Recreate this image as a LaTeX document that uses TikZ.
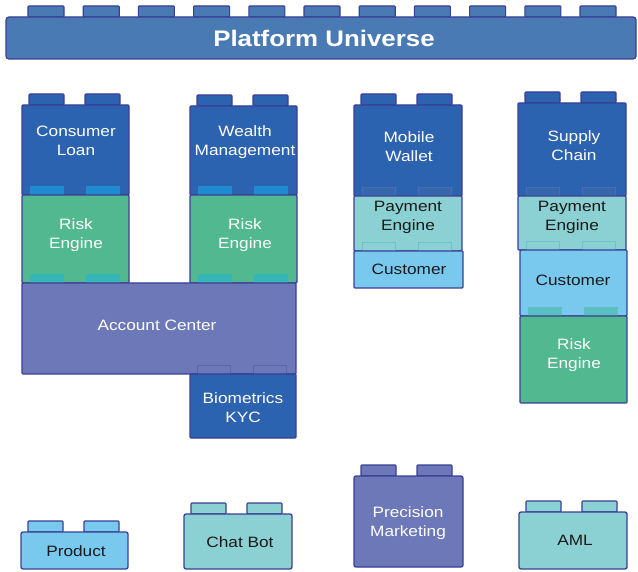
\documentclass[tikz,border=0pt]{standalone}
\usepackage{fontspec}
\setmainfont{Liberation Sans}[FakeStretch=1.15]
\definecolor{bd}{HTML}{3A3E96}
\definecolor{barblue}{HTML}{4A7AB4}
\definecolor{dkblue}{HTML}{2C63B0}
\definecolor{dkstud}{HTML}{1F8BD1}
\definecolor{dkstudB}{HTML}{3566AE}
\definecolor{dkstudBd}{HTML}{4A6DB2}
\definecolor{green}{HTML}{52B890}
\definecolor{grstud}{HTML}{35B7B7}
\definecolor{purple}{HTML}{6C78B8}
\definecolor{pustudBd}{HTML}{5A64AA}
\definecolor{lteal}{HTML}{8BD0D2}
\definecolor{ltealBd}{HTML}{6FC0C8}
\definecolor{sky}{HTML}{79C9EE}
\definecolor{skystud}{HTML}{5BBFC4}
\definecolor{txtdark}{HTML}{1A1A1A}
\newcommand\topstuds[3]{%
  \draw[stud,fill=#3] (#1+7,#2) rectangle ++(35,11);
  \draw[stud,fill=#3] (#1+63,#2) rectangle ++(35,11);}
\newcommand\innerstuds[4]{%
  \draw[istud,fill=#3,draw=#4] (#1+8,#2-9) rectangle ++(33,9);
  \draw[istud,fill=#3,draw=#4] (#1+64,#2-9) rectangle ++(33,9);}
\begin{document}
\begin{tikzpicture}[x=1pt,y=-1pt,
  brick/.style={draw=bd, line width=1.3pt, rounded corners=1pt, anchor=north west, inner sep=0pt, outer sep=0pt},
  stud/.style={draw=bd, line width=1.1pt, rounded corners=0.8pt},
  istud/.style={line width=0.8pt},
  lbl/.style={font=\fontsize{15}{19}\selectfont, align=center, inner sep=0pt},
  wlbl/.style={lbl, text=white},
  blbl/.style={lbl, text=txtdark}]
\useasboundingbox (0,0) rectangle (638,572);

% Platform bar
\foreach \i in {0,...,10} \draw[stud, fill=barblue] ({28+55.2*\i},6) rectangle ++(36,11);
\node[brick, fill=barblue, rounded corners=3pt, minimum width=630pt, minimum height=42pt] (bar) at (6,17) {};
\node[font=\fontsize{22.5}{26}\selectfont\bfseries, text=white, inner sep=0pt] (barT) at (324,38) {Platform Universe};

% Column 1
\topstuds{22}{94}{dkblue}
\node[brick, fill=dkblue, minimum width=107pt, minimum height=90pt] (cl) at (22,105) {};
\innerstuds{22}{195}{dkstud}{dkstud}
\node[brick, fill=green, minimum width=107pt, minimum height=88pt] (re1) at (22,195) {};
\innerstuds{22}{283}{grstud}{grstud}

% Column 2
\topstuds{190}{95}{dkblue}
\node[brick, fill=dkblue, minimum width=107pt, minimum height=89pt] (wm) at (190,106) {};
\innerstuds{190}{195}{dkstud}{dkstud}
\node[brick, fill=green, minimum width=107pt, minimum height=88pt] (re2) at (190,195) {};
\innerstuds{190}{283}{grstud}{grstud}

% Account Center + Biometrics
\node[brick, fill=purple, minimum width=274pt, minimum height=91pt] (ac) at (22,283) {};
\innerstuds{189}{374}{purple}{pustudBd}
\node[brick, fill=dkblue, minimum width=106pt, minimum height=64pt] (bio) at (190,374) {};

% Column 3
\topstuds{354}{94}{dkblue}
\node[brick, fill=dkblue, minimum width=108pt, minimum height=91pt] (mw) at (354,105) {};
\innerstuds{354}{196}{dkstudB}{dkstudBd}
\node[brick, fill=lteal, minimum width=108pt, minimum height=55pt] (pe1) at (354,196) {};
\innerstuds{354}{251}{lteal}{ltealBd}
\node[brick, fill=sky, minimum width=109pt, minimum height=37pt] (cu1) at (354,251) {};

% Column 4
\topstuds{518}{92}{dkblue}
\node[brick, fill=dkblue, minimum width=108pt, minimum height=93pt] (sc) at (518,103) {};
\innerstuds{518}{196}{dkstudB}{dkstudBd}
\node[brick, fill=lteal, minimum width=108pt, minimum height=54pt] (pe2) at (518,196) {};
\innerstuds{518}{250}{lteal}{ltealBd}
\node[brick, fill=sky, minimum width=107pt, minimum height=66pt] (cu2) at (520,250) {};
\innerstuds{520}{316}{skystud}{skystud}
\node[brick, fill=green, minimum width=107pt, minimum height=87pt] (re3) at (520,316) {};

% Bottom row
\topstuds{21}{521}{sky}
\node[brick, fill=sky, rounded corners=2pt, minimum width=107pt, minimum height=37pt] (pr) at (21,532) {};
\topstuds{184}{503}{lteal}
\node[brick, fill=lteal, rounded corners=2pt, minimum width=108pt, minimum height=55pt] (cb) at (184,514) {};
\topstuds{354}{465}{purple}
\node[brick, fill=purple, rounded corners=2pt, minimum width=109pt, minimum height=91pt] (pm) at (354,476) {};
\topstuds{519}{501}{lteal}
\node[brick, fill=lteal, rounded corners=2pt, minimum width=108pt, minimum height=57pt] (aml) at (519,512) {};

% Labels
\node[wlbl] (clT) at (76,141) {Consumer\\Loan};
\node[wlbl] (re1T) at (76,235) {Risk\\Engine};
\node[wlbl] (wmT) at (245,142.5) {Wealth\\Management};
\node[wlbl] (re2T) at (245,235.5) {Risk\\Engine};
\node[wlbl] (acT) at (157,325) {Account Center};
\node[wlbl] (bioT) at (243,408) {Biometrics\\KYC};
\node[wlbl] (mwT) at (409,146.5) {Mobile\\Wallet};
\node[blbl] (pe1T) at (408,217.5) {Payment\\Engine};
\node[blbl] (cu1T) at (409,269) {Customer};
\node[wlbl] (scT) at (574,145.5) {Supply\\Chain};
\node[blbl] (pe2T) at (572,217.5) {Payment\\Engine};
\node[blbl] (cu2T) at (573,280) {Customer};
\node[wlbl] (re3T) at (574,355.5) {Risk\\Engine};
\node[blbl] (prT) at (76,551) {Product};
\node[blbl] (cbT) at (240,542) {Chat Bot};
\node[wlbl] (pmT) at (408,523.5) {Precision\\Marketing};
\node[blbl] (amlT) at (575,540) {AML};
\end{tikzpicture}
\end{document}
